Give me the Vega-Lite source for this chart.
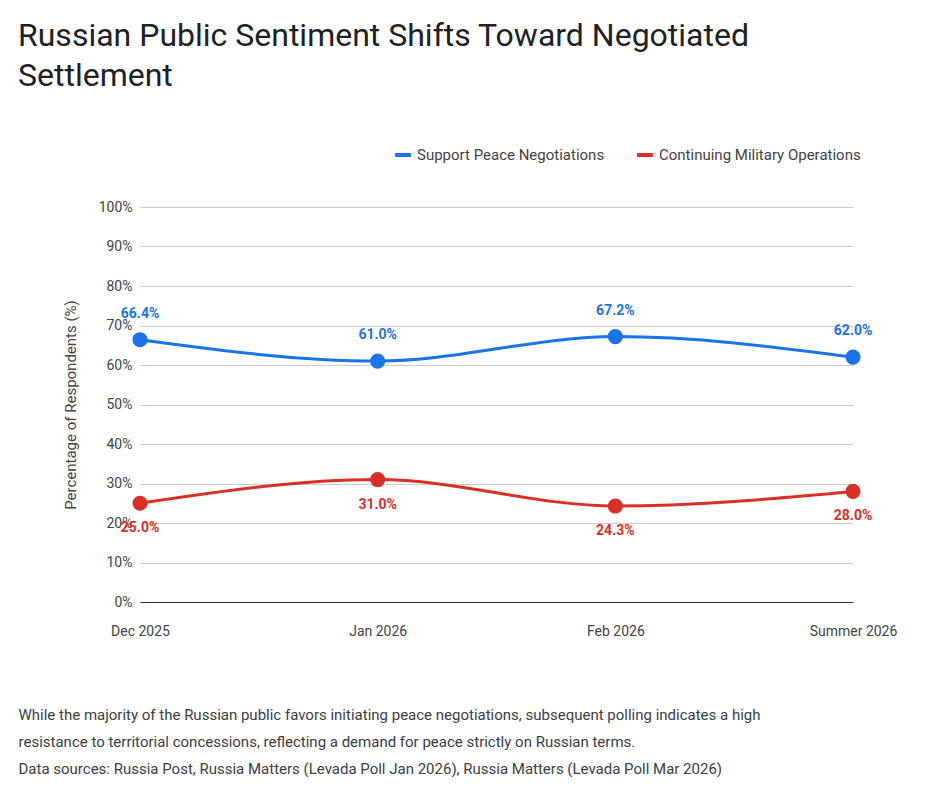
{
"$schema":"https://vega.github.io/schema/vega-lite/v6.json",
"autosize":{"type":"none"},
"padding":{"left":140,"top":207,"right":78,"bottom":205},
"width":713,"height":395,
"background":"white",
"config":{"font":"Roboto","view":{"stroke":null}},
"title":{"text":["Russian Public Sentiment Shifts Toward Negotiated","Settlement"],"anchor":"start","frame":"group","dx":-122,"offset":52,"fontSize":32,"fontWeight":"normal","color":"#202124","lineHeight":40},
"data":{"values":[
{"period":"Dec 2025","series":"Support Peace Negotiations","value":66.4},
{"period":"Jan 2026","series":"Support Peace Negotiations","value":61.0},
{"period":"Feb 2026","series":"Support Peace Negotiations","value":67.2},
{"period":"Summer 2026","series":"Support Peace Negotiations","value":62.0},
{"period":"Dec 2025","series":"Continuing Military Operations","value":25.0},
{"period":"Jan 2026","series":"Continuing Military Operations","value":31.0},
{"period":"Feb 2026","series":"Continuing Military Operations","value":24.3},
{"period":"Summer 2026","series":"Continuing Military Operations","value":28.0}
]},
"encoding":{
"x":{"field":"period","type":"ordinal","sort":null,"scale":{"type":"point","padding":0},
 "axis":{"labelAngle":0,"labelFontSize":14,"labelColor":"#444","labelPadding":22,"ticks":false,"domainColor":"#333","title":["While the majority of the Russian public favors initiating peace negotiations, subsequent polling indicates a high","resistance to territorial concessions, reflecting a demand for peace strictly on Russian terms.","Data sources: Russia Post, Russia Matters (Levada Poll Jan 2026), Russia Matters (Levada Poll Mar 2026)"],"titleFontSize":15,"titleFontWeight":"normal","titleColor":"#3c4043","titleAnchor":"start","titleAlign":"left","titleX":-122,"titleY":105,"titleLineHeight":27,"titleBaseline":"top"}},
"y":{"field":"value","type":"quantitative","scale":{"domain":[0,100]},
 "axis":{"format":".0f","labelExpr":"datum.label + '%'","tickCount":10,"labelFontSize":14,"labelColor":"#444","labelPadding":8,"ticks":false,"domain":false,"gridColor":"#ccc","title":"Percentage of Respondents (%)","titleFontSize":15,"titleFontWeight":"normal","titleColor":"#444","titlePadding":20}},
"color":{"field":"series","type":"nominal","sort":["Support Peace Negotiations","Continuing Military Operations"],
 "scale":{"domain":["Support Peace Negotiations","Continuing Military Operations"],"range":["#1a73e8","#d93025"]},
 "legend":{"orient":"none","legendX":253,"legendY":-62,"direction":"horizontal","title":null,"symbolType":"stroke","symbolStrokeWidth":4,"symbolSize":250,"labelFontSize":15,"labelColor":"#444","labelLimit":400,"columnPadding":24}}
},
"layer":[
{"mark":{"type":"line","interpolate":"monotone","strokeWidth":3}},
{"mark":{"type":"circle","size":230,"opacity":1}},
{"transform":[{"filter":"datum.series=='Support Peace Negotiations'"},{"calculate":"format(datum.value,'.1f')+'%'","as":"lbl"}],"mark":{"type":"text","dy":-26,"fontSize":14,"fontWeight":"bold"},"encoding":{"text":{"field":"lbl"},"color":{"value":"#1a73e8"}}},
{"transform":[{"filter":"datum.series=='Continuing Military Operations'"},{"calculate":"format(datum.value,'.1f')+'%'","as":"lbl"}],"mark":{"type":"text","dy":25,"fontSize":14,"fontWeight":"bold"},"encoding":{"text":{"field":"lbl"},"color":{"value":"#d93025"}}}
]
}
